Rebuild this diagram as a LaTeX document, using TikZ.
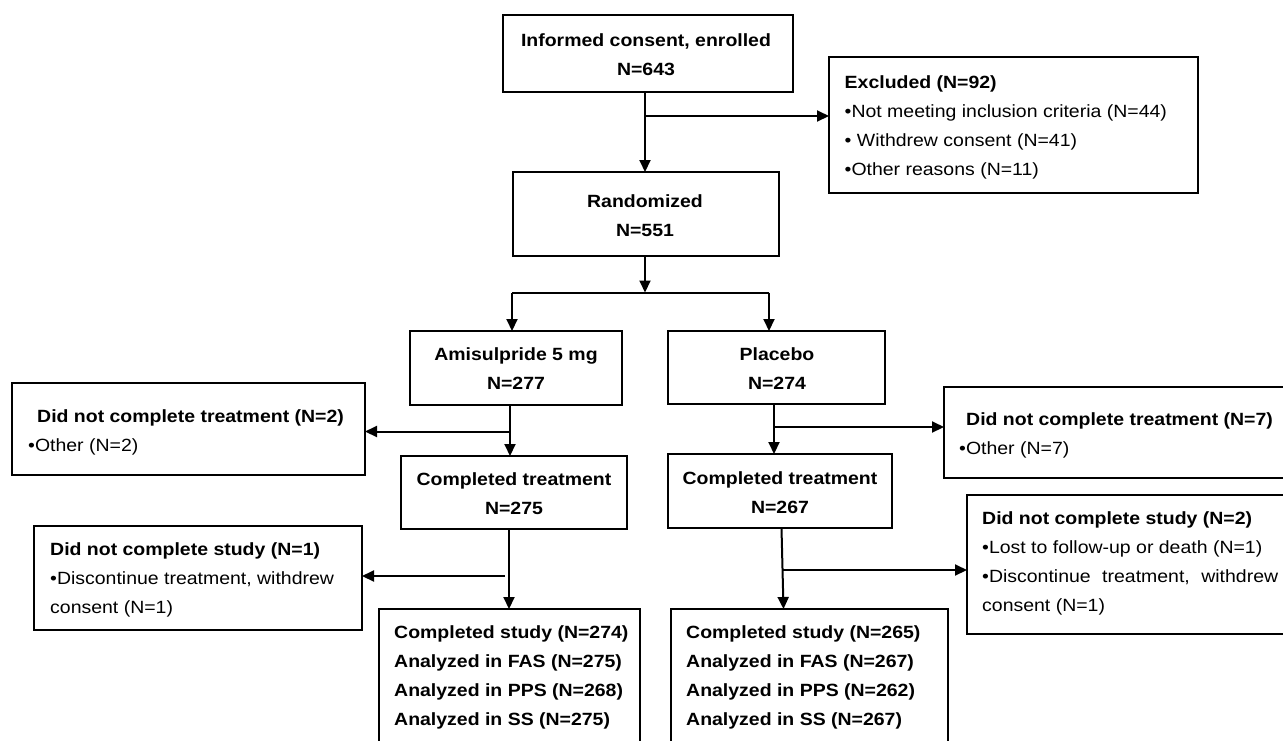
\documentclass[tikz,border=0pt]{standalone}
\usepackage{fontspec}
\setmainfont{Liberation Sans}[FakeStretch=1.1]
\usetikzlibrary{arrows.meta}
\newcommand\dfsize{\fontsize{17.7}{29}\selectfont}
\begin{document}
\begin{tikzpicture}[x=1pt,y=-1pt,
  box/.style={draw, line width=2pt, anchor=north west, inner sep=0pt, outer sep=0pt},
  arr/.style={line width=2pt, -{Triangle[length=12pt,width=11pt]}},
  ln/.style={line width=2pt},
  ctext/.style={anchor=base, inner sep=0pt, font=\dfsize\bfseries},
  ltext/.style={anchor=base west, inner sep=0pt, font=\dfsize},
  btext/.style={anchor=base west, inner sep=0pt, font=\dfsize\bfseries}]
\useasboundingbox (0,0) rectangle (1283,740);
\clip (0,0) rectangle (1283,740);
\fill[white] (0,0) rectangle (1283,740);

% boxes
\node[box, minimum width=290pt, minimum height=77pt] (consent) at (503,15) {};
\node[box, minimum width=369pt, minimum height=136pt] (excl) at (829,57) {};
\node[box, minimum width=266pt, minimum height=84pt] (rand) at (513,172) {};
\node[box, minimum width=212pt, minimum height=74pt] (amis) at (410,331) {};
\node[box, minimum width=217pt, minimum height=73pt] (plac) at (668,331) {};
\node[box, minimum width=353pt, minimum height=92pt] (dnctL) at (12,383) {};
\node[box, minimum width=226pt, minimum height=73pt] (ctL) at (401,456) {};
\node[box, minimum width=224pt, minimum height=74pt] (ctR) at (668,454) {};
\node[box, minimum width=400pt, minimum height=91pt] (dnctR) at (944,387) {};
\node[box, minimum width=328pt, minimum height=104pt] (dncsL) at (34,526) {};
\node[box, minimum width=400pt, minimum height=139pt] (dncsR) at (967,495) {};
\node[box, minimum width=261pt, minimum height=200pt] (botL) at (379,609) {};
\node[box, minimum width=277pt, minimum height=200pt] (botR) at (671,609) {};

% texts
\node[ctext] (tconsent) at (646,46.5) {\begin{tabular}[t]{@{}c@{}}Informed consent, enrolled\\N=643\end{tabular}};
\node[ltext] (texcl) at (844.5,88.7) {\begin{tabular}[t]{@{}l@{}}\textbf{Excluded (N=92)}\\•Not meeting inclusion criteria (N=44)\\• Withdrew consent (N=41)\\•Other reasons (N=11)\end{tabular}};
\node[ctext] (trand) at (645,207) {\begin{tabular}[t]{@{}c@{}}Randomized\\N=551\end{tabular}};
\node[ctext] (tamis) at (516,360.4) {\begin{tabular}[t]{@{}c@{}}Amisulpride 5 mg\\N=277\end{tabular}};
\node[ctext] (tplac) at (777,360.4) {\begin{tabular}[t]{@{}c@{}}Placebo\\N=274\end{tabular}};
\node[ctext] (tctL) at (514,485.4) {\begin{tabular}[t]{@{}c@{}}Completed treatment\\N=275\end{tabular}};
\node[ctext] (tctR) at (780,484.4) {\begin{tabular}[t]{@{}c@{}}Completed treatment\\N=267\end{tabular}};
\node[btext] (tdnctL1) at (37,422) {Did not complete treatment (N=2)};
\node[ltext] (tdnctL2) at (28,451.4) {•Other (N=2)};
\node[btext] (tdnctR1) at (966,425.4) {Did not complete treatment (N=7)};
\node[ltext] (tdnctR2) at (959,454.4) {•Other (N=7)};
\node[ltext] (tdncsL) at (50,555.4) {\begin{tabular}[t]{@{}l@{}}\textbf{Did not complete study (N=1)}\\•Discontinue treatment, withdrew\\consent (N=1)\end{tabular}};
\node[ltext] (tdncsR) at (982,524.4) {\begin{tabular}[t]{@{}l@{}}\textbf{Did not complete study (N=2)}\\•Lost to follow-up or death (N=1)\\\hbox to 296pt{•Discontinue\hfill treatment,\hfill withdrew}\\consent (N=1)\end{tabular}};
\node[btext] (tbotL) at (394,638) {\begin{tabular}[t]{@{}l@{}}Completed study (N=274)\\Analyzed in FAS (N=275)\\Analyzed in PPS (N=268)\\Analyzed in SS (N=275)\end{tabular}};
\node[btext] (tbotR) at (686,638) {\begin{tabular}[t]{@{}l@{}}Completed study (N=265)\\Analyzed in FAS (N=267)\\Analyzed in PPS (N=262)\\Analyzed in SS (N=267)\end{tabular}};

% junction coordinates
\coordinate (j1) at (645,116);
\coordinate (j2) at (645,292.5);
\coordinate (jL) at (512,292.5);
\coordinate (jR) at (769,292.5);
\coordinate (j3) at (510,431.5);
\coordinate (j4) at (774,427);
\coordinate (j5a) at (509,576);
\coordinate (j5) at (505,576);
\coordinate (j6top) at (781.5,528);
\coordinate (j6bot) at (783.5,609);
\coordinate (j6) at (782.8,570);

% connectors
\draw[arr] (consent.south -| j1) -- (rand.north -| j1);
\draw[arr] (j1) -- (excl.west |- j1);
\draw[arr] (rand.south -| j2) -- (j2);
\draw[ln] (jL) -- (jR);
\draw[arr] (jL) -- (amis.north -| jL);
\draw[arr] (jR) -- (plac.north -| jR);
\draw[arr] (amis.south -| j3) -- (ctL.north -| j3);
\draw[arr] (j3) -- (dnctL.east |- j3);
\draw[arr] (plac.south -| j4) -- (ctR.north -| j4);
\draw[arr] (j4) -- (dnctR.west |- j4);
\draw[arr] (ctL.south -| j5a) -- (botL.north -| j5a);
\draw[arr] (j5) -- (dncsL.east |- j5);
\draw[arr] (j6top) -- (j6bot);
\draw[arr] (j6) -- (dncsR.west |- j6);
\end{tikzpicture}
\end{document}
